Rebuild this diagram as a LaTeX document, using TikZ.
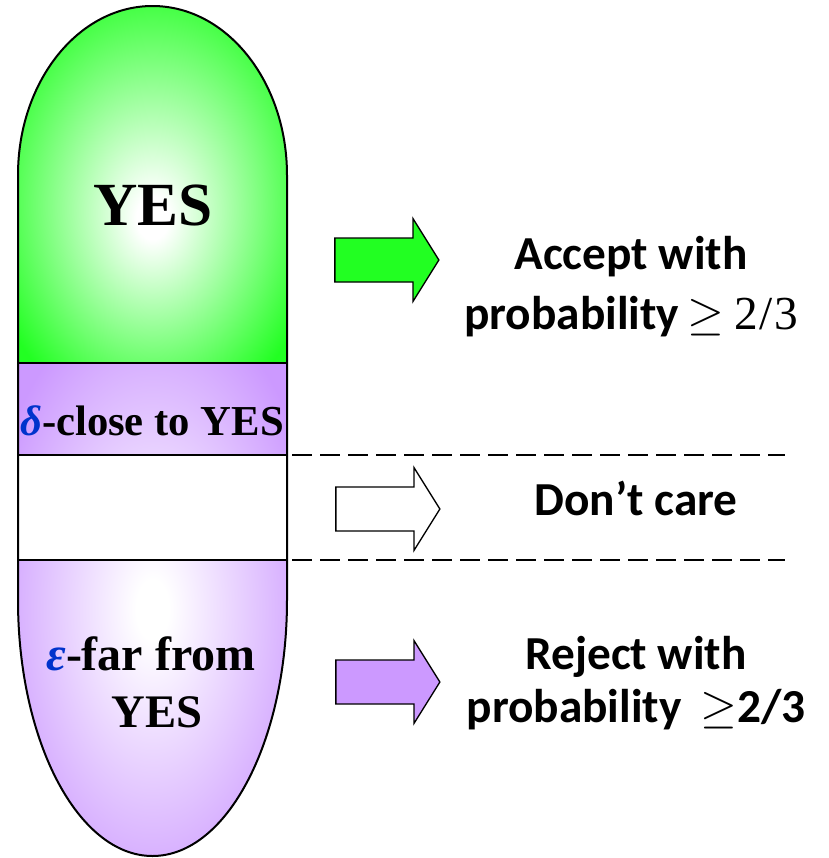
\RequirePackage{fix-cm}
\documentclass[tikz,border=0pt]{standalone}
\usepackage{fontspec}
\setmainfont{Liberation Serif}
\newfontfamily\calib{Carlito}
\usetikzlibrary{shapes.arrows}

\definecolor{yesgreen}{RGB}{34,255,34}
\definecolor{farpurple}{RGB}{204,153,255}
\definecolor{greekblue}{RGB}{0,51,204}

\pgfdeclareradialshading{yesglow}{\pgfpoint{0bp}{-5bp}}{color(0bp)=(white); color(3bp)=(white); color(32bp)=(yesgreen); color(50bp)=(yesgreen)}
\pgfdeclareradialshading{farglow}{\pgfpoint{0bp}{0bp}}{color(0bp)=(white); color(3bp)=(white); color(32bp)=(farpurple); color(50bp)=(farpurple)}

\begin{document}
\begin{tikzpicture}[x=0.75pt, y=0.75pt,
  pill/.style={draw, line width=1.5pt},
  band/.style={draw, line width=1.3pt},
  careline/.style={draw, line width=1pt, dash pattern=on 15pt off 6pt},
  fatarrow/.style={single arrow, draw, line width=1pt, minimum height=78pt,
    inner xsep=0pt, inner ysep=16pt, single arrow head extend=14.5pt,
    single arrow tip angle=116},
  leftlabel/.style={font=\bfseries\fontsize{32}{32}\selectfont, inner sep=0pt, anchor=base},
  rightlabel/.style={font=\calib\bfseries\fontsize{35.5}{45}\selectfont, align=center, inner sep=0pt}]

  \useasboundingbox (0,0) rectangle (829,-858);

  % Pill
  \shade[shading=yesglow] (18,-363) -- (18,-175) arc[start angle=180, end angle=0, x radius=134.5, y radius=169] -- (287,-363) -- cycle;
  \shade[shading=farglow] (18,-363) -- (18,-600) arc[start angle=180, end angle=360, x radius=134.5, y radius=256] -- (287,-363) -- cycle;
  \fill[white] (18,-455) rectangle (287,-560);
  \draw[band] (18,-363) -- (287,-363);
  \draw[band] (18,-455) -- (287,-455);
  \draw[band] (18,-560) -- (287,-560);
  \draw[pill] (18,-600) -- (18,-175) arc[start angle=180, end angle=0, x radius=134.5, y radius=169]
    -- (287,-600) arc[start angle=0, end angle=-180, x radius=134.5, y radius=256];

  % Pill labels
  \node[font=\bfseries\fontsize{46}{46}\selectfont, inner sep=0pt, anchor=base] (yes) at (153,-225) {YES};
  \node[leftlabel] (close) at (152,-435) {{\color{greekblue}\itshape δ}-close to YES};
  \node[leftlabel, font=\bfseries\fontsize{36}{36}\selectfont] (far) at (151,-670) {{\color{greekblue}\itshape ε}-far from};
  \node[leftlabel, font=\bfseries\fontsize{35}{35}\selectfont] (faryes) at (157,-727) {YES};

  % Dashed borders
  \coordinate (top1) at (292,-455);
  \coordinate (top2) at (785,-455);
  \coordinate (bot1) at (292,-560);
  \coordinate (bot2) at (785,-560);
  \draw[careline] (top1) -- (top2);
  \draw[careline] (bot1) -- (bot2);

  % Arrows
  \node[fatarrow, fill=yesgreen] (accarrow) at (380,-260) {};
  \node[fatarrow, fill=white] (carearrow) at (381,-509) {};
  \node[fatarrow, fill=farpurple] (rejarrow) at (381,-682) {};

  % Outcomes
  \node[rightlabel] (accept) at (631,-287) {Accept with\\probability\,$\geq$ {\rmfamily\mdseries 2\kern1pt/\kern1pt3}};
  \node[rightlabel] (dontcare) at (636,-498) {Don’t care};
  \node[rightlabel, font=\calib\bfseries\fontsize{35.5}{40}\selectfont] (reject) at (636,-683) {Reject with\\probability \,$\geq$2/3};

\end{tikzpicture}
\end{document}
